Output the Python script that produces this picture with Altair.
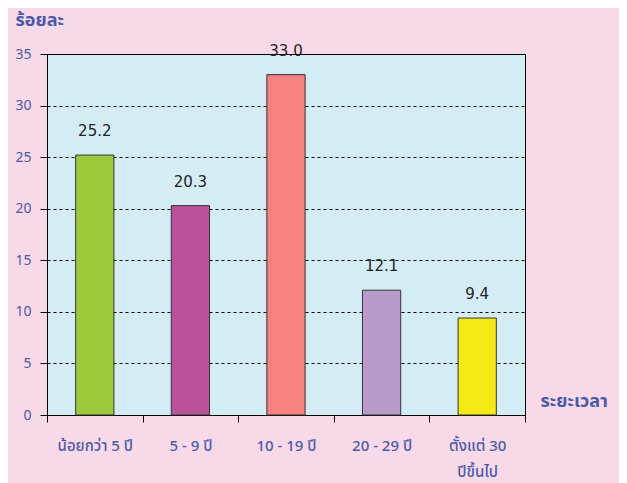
import altair as alt
import pandas as pd

categories = ["น้อยกว่า 5 ปี", "5 - 9 ปี", "10 - 19 ปี", "20 - 29 ปี", "ตั้งแต่ 30 ปีขึ้นไป"]
values = [25.2, 20.3, 33.0, 12.1, 9.4]
colors = ["#9ACA3C", "#B9529B", "#F58181", "#B99BC9", "#F6EA16"]
y_ticks = [0, 5, 10, 15, 20, 25, 30, 35]

df = pd.DataFrame({"cat": categories, "val": values, "lab": [f"{v:.1f}" for v in values]})

BLUE = "#4A5AA8"
FONT = "Tahoma, 'Noto Sans Thai', 'Loma', 'Garuda', sans-serif"

x = alt.X(
    "cat:N",
    sort=categories,
    scale=alt.Scale(paddingInner=0, paddingOuter=0),
    axis=alt.Axis(
        title="ระยะเวลา",
        titleX=493, titleY=-14, titleAlign="left", titleBaseline="middle",
        titleColor=BLUE, titleFontSize=18, titleFontWeight="bold", titleFont=FONT,
        labelAngle=0, labelColor=BLUE, labelFontSize=15, labelFont=FONT, labelFontWeight=500,
        labelPadding=16, labelLineHeight=26,
        labelExpr="datum.label == 'ตั้งแต่ 30 ปีขึ้นไป' ? ['ตั้งแต่ 30', 'ปีขึ้นไป'] : datum.label",
        tickBand="extent", tickSize=7, tickColor="black", domainColor="black",
        grid=False,
    ),
)

y_scale = alt.Scale(domain=[0, 35], nice=False)

bars = alt.Chart(df).mark_bar(
    width=alt.RelativeBandSize(0.4), stroke="#333333", strokeWidth=1
).encode(
    x=x,
    y=alt.Y(
        "val:Q",
        scale=y_scale,
        axis=alt.Axis(
            values=y_ticks,
            title="ร้อยละ",
            titleAngle=0, titleX=-32, titleY=-34, titleAlign="left", titleBaseline="middle",
            titleColor=BLUE, titleFontSize=18, titleFontWeight="bold", titleFont=FONT,
            labelColor=BLUE, labelFontSize=14, labelFont=FONT, labelPadding=9,
            tickSize=7, tickColor="black", domainColor="black",
            grid=True, gridColor="black", gridDash=[3, 3], gridWidth=1,
        ),
    ),
    color=alt.Color("cat:N", sort=categories,
                    scale=alt.Scale(domain=categories, range=colors), legend=None),
)

texts = alt.Chart(df).mark_text(
    dy=-24, fontSize=15, color="#222222", font="'DejaVu Sans', sans-serif", baseline="middle"
).encode(
    x=alt.X("cat:N", sort=categories),
    y=alt.Y("val:Q", scale=y_scale),
    text="lab:N",
)

chart = (bars + texts).properties(
    width=478, height=361,
    autosize=alt.AutoSizeParams(type="none"),
    padding={"left": 39, "top": 46, "right": 94, "bottom": 70},
    background="#F8D9E8",
).configure_view(
    fill="#D4EDF4", stroke="black", strokeWidth=1
)

chart.save("out.html", embed_options={"renderer": "svg", "actions": False})
